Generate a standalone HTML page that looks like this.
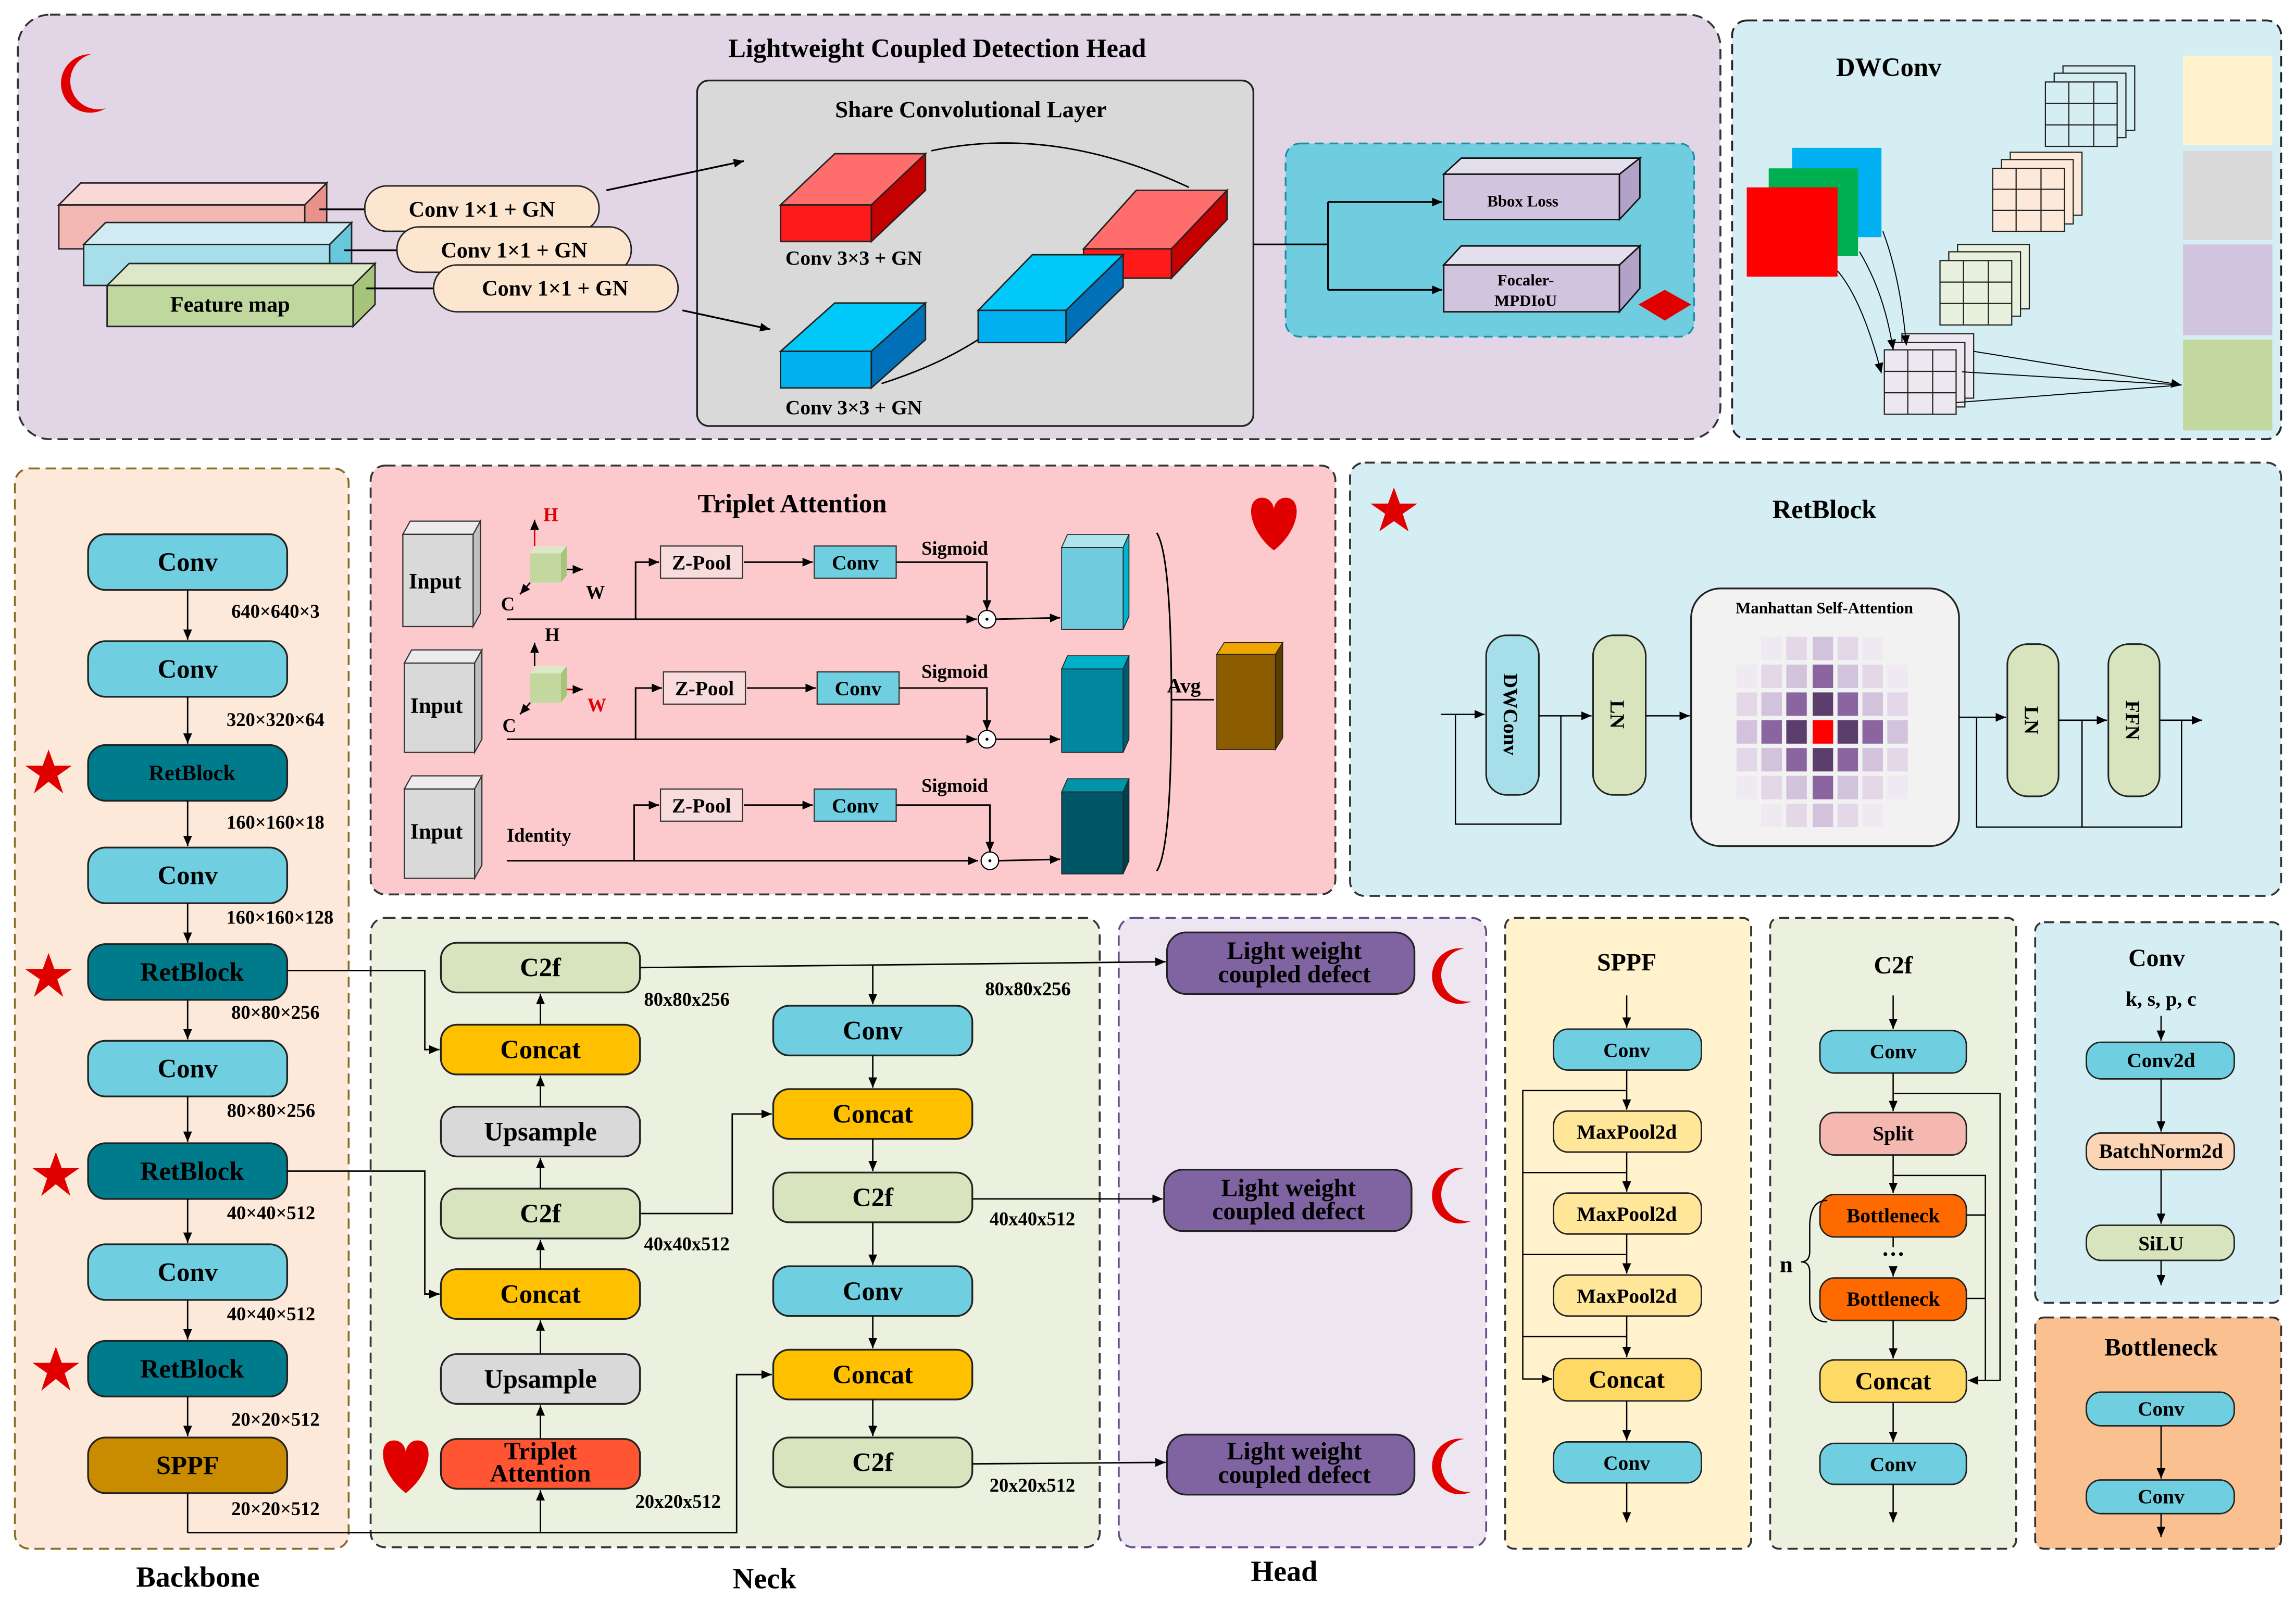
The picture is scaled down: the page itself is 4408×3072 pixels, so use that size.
<!DOCTYPE html>
<html><head><meta charset="utf-8"><style>
html,body{margin:0;padding:0;background:#fff}
svg{display:block}
text{font-family:"Liberation Serif",serif;font-weight:bold;fill:#000}
</style></head><body>
<svg width="4408" height="3072" viewBox="0 0 1568 1093" xmlns="http://www.w3.org/2000/svg">
<defs>
<marker id="a" markerWidth="8" markerHeight="8" refX="7" refY="4" orient="auto" markerUnits="userSpaceOnUse"><path d="M0,1 L7,4 L0,7 z" fill="#000"/></marker>
</defs>
<rect width="1568" height="1093" fill="#fff"/>

<!-- ============ Top-left: Lightweight Coupled Detection Head ============ -->
<rect x="12" y="10" width="1163" height="290" rx="22" fill="#e2d5e6" stroke="#333" stroke-dasharray="7,4" stroke-width="1.3"/>
<text x="640" y="39" font-size="18" text-anchor="middle">Lightweight Coupled Detection Head</text>
<path d="M62,37 A20,20 0 1,0 72,74 A17,17 0 1,1 62,37 z" fill="#e00000"/>
<g stroke="#222" stroke-width="1">
<polygon points="40,140 55,125 223,125 208,140" fill="#f8d9d8"/><polygon points="208,140 223,125 223,155 208,170" fill="#e9928c"/><rect x="40" y="140" width="168" height="30" fill="#f4b8b4"/>
<polygon points="57,167 72,152 240,152 225,167" fill="#d0ecf2"/><polygon points="225,167 240,152 240,180 225,195" fill="#66c8da"/><rect x="57" y="167" width="168" height="28" fill="#a6dfea"/>
<polygon points="73,195 88,180 256,180 241,195" fill="#dde8c9"/><polygon points="241,195 256,180 256,208 241,223" fill="#a6c57a"/><rect x="73" y="195" width="168" height="28" fill="#c0d89e"/>
</g>
<text x="157" y="213" font-size="15" text-anchor="middle">Feature map</text>
<g stroke="#000" stroke-width="1.2"><line x1="218" y1="143" x2="249" y2="143"/><line x1="235" y1="171" x2="271" y2="171"/><line x1="250" y1="197" x2="296" y2="197"/></g>
<g stroke="#222" stroke-width="1" fill="#fde6cf">
<rect x="249" y="127" width="160" height="31" rx="15"/><rect x="271" y="155" width="160" height="31" rx="15"/><rect x="296" y="181" width="167" height="32" rx="16"/>
</g>
<text x="329" y="148" font-size="15" text-anchor="middle">Conv 1×1 + GN</text>
<text x="351" y="176" font-size="15" text-anchor="middle">Conv 1×1 + GN</text>
<text x="379" y="202" font-size="15" text-anchor="middle">Conv 1×1 + GN</text>
<rect x="476" y="55" width="380" height="236" rx="8" fill="#d9d9d9" stroke="#222" stroke-width="1.2"/>
<line x1="414" y1="130" x2="508" y2="110" stroke="#000" stroke-width="1.2" marker-end="url(#a)"/>
<line x1="466" y1="212" x2="526" y2="225" stroke="#000" stroke-width="1.2" marker-end="url(#a)"/>
<text x="663" y="80" font-size="16" text-anchor="middle">Share Convolutional Layer</text>
<g stroke="#222" stroke-width="1">
<polygon points="533,140 570,105 632,105 595,140" fill="#ff6d6d"/><polygon points="595,140 632,105 632,130 595,165" fill="#c40000"/><rect x="533" y="140" width="62" height="25" fill="#ff1a1a"/>
<polygon points="740,170 776,130 838,130 800,170" fill="#ff6d6d"/><polygon points="800,170 838,130 838,150 800,190" fill="#c40000"/><rect x="740" y="170" width="60" height="20" fill="#ff1a1a"/>
<polygon points="533,240 570,207 632,207 595,240" fill="#00c8f8"/><polygon points="595,240 632,207 632,232 595,265" fill="#0070b8"/><rect x="533" y="240" width="62" height="25" fill="#00b0f0"/>
<polygon points="668,212 705,174 767,174 728,212" fill="#00c8f8"/><polygon points="728,212 767,174 767,196 728,234" fill="#0070b8"/><rect x="668" y="212" width="60" height="22" fill="#00b0f0"/>
</g>
<path d="M636,103 Q720,85 812,128" fill="none" stroke="#000" stroke-width="1"/>
<path d="M602,262 Q640,250 668,232" fill="none" stroke="#000" stroke-width="1"/>
<text x="583" y="181" font-size="14" text-anchor="middle">Conv 3×3 + GN</text>
<text x="583" y="283" font-size="14" text-anchor="middle">Conv 3×3 + GN</text>
<rect x="878" y="98" width="279" height="132" rx="10" fill="#70cddf" stroke="#1a8fa8" stroke-dasharray="6,4" stroke-width="1.2"/>
<line x1="856" y1="167" x2="907" y2="167" stroke="#000" stroke-width="1.2"/>
<polyline points="907,138 907,198" fill="none" stroke="#000" stroke-width="1.2"/>
<line x1="907" y1="138" x2="985" y2="138" stroke="#000" stroke-width="1.2" marker-end="url(#a)"/>
<line x1="907" y1="198" x2="985" y2="198" stroke="#000" stroke-width="1.2" marker-end="url(#a)"/>
<g stroke="#111" stroke-width="1">
<polygon points="986,119 998,108 1120,108 1106,119" fill="#e4dfec"/><polygon points="1106,119 1120,108 1120,135 1106,150" fill="#b3a2c7"/><rect x="986" y="119" width="120" height="31" fill="#d1c4de"/>
<polygon points="986,181 998,168 1120,168 1106,181" fill="#e4dfec"/><polygon points="1106,181 1120,168 1120,197 1106,213" fill="#b3a2c7"/><rect x="986" y="181" width="120" height="32" fill="#d1c4de"/>
</g>
<text x="1040" y="141" font-size="11" text-anchor="middle">Bbox Loss</text>
<text x="1042" y="195" font-size="11" text-anchor="middle">Focaler-</text>
<text x="1042" y="209" font-size="11" text-anchor="middle">MPDIoU</text>
<polygon points="1137,198 1155,208 1137,219 1119,208" fill="#e00000"/>

<!-- ============ DWConv ============ -->
<rect x="1183" y="14" width="375" height="286" rx="10" fill="#d5eef3" stroke="#222" stroke-dasharray="7,4" stroke-width="1.3"/>
<text x="1290" y="52" font-size="18" text-anchor="middle">DWConv</text>
<rect x="1224" y="101" width="61" height="61" fill="#00b0f0"/>
<rect x="1208" y="115" width="61" height="60" fill="#00b050"/>
<rect x="1193" y="128" width="62" height="61" fill="#ff0000"/>
<g stroke="#222" stroke-width="0.8">
<g fill="#d5eef3"><rect x="1409" y="45" width="49" height="44"/><rect x="1403" y="50" width="49" height="44"/><rect x="1397" y="56" width="49" height="44"/><path d="M1413,56V100M1430,56V100M1397,70.7H1446M1397,85.3H1446" fill="none"/></g>
<g fill="#fde9d9"><rect x="1373" y="104" width="49" height="43"/><rect x="1367" y="109" width="49" height="44"/><rect x="1361" y="115" width="49" height="43"/><path d="M1377,115V158M1394,115V158M1361,129.3H1410M1361,143.7H1410" fill="none"/></g>
<g fill="#e8f0de"><rect x="1337" y="167" width="49" height="44"/><rect x="1331" y="172" width="49" height="44"/><rect x="1325" y="178" width="49" height="44"/><path d="M1341,178V222M1358,178V222M1325,192.7H1374M1325,207.3H1374" fill="none"/></g>
<g fill="#ede8f0"><rect x="1299" y="228" width="49" height="44"/><rect x="1293" y="234" width="49" height="44"/><rect x="1287" y="239" width="49" height="44"/><path d="M1303,239V283M1320,239V283M1287,253.7H1336M1287,268.3H1336" fill="none"/></g>
</g>
<g fill="none" stroke="#000" stroke-width="0.7">
<path d="M1286,158 Q1298,190 1302,236" marker-end="url(#a)"/>
<path d="M1270,172 Q1287,200 1293,239" marker-end="url(#a)"/>
<path d="M1255,185 Q1272,205 1285,255" marker-end="url(#a)"/>
<line x1="1348" y1="240" x2="1490" y2="263" marker-end="url(#a)"/>
<line x1="1340" y1="254" x2="1490" y2="263"/>
<line x1="1336" y1="275" x2="1490" y2="263"/>
</g>
<rect x="1491" y="38" width="61" height="61" fill="#fff2cc"/>
<rect x="1491" y="103" width="61" height="61" fill="#d9d9d9"/>
<rect x="1491" y="167" width="61" height="62" fill="#d1c4de"/>
<rect x="1491" y="232" width="61" height="62" fill="#c3d89e"/>

<!-- ============ Backbone ============ -->
<rect x="10" y="320" width="228" height="738" rx="10" fill="#fde9d9" stroke="#8a6a2a" stroke-dasharray="7,4" stroke-width="1.3"/>
<!-- Neck & head panels drawn first so arrows overlay them -->
<rect x="253" y="627" width="498" height="430" rx="10" fill="#ebf1de" stroke="#333" stroke-dasharray="7,4" stroke-width="1.3"/>
<rect x="764" y="627" width="251" height="430" rx="10" fill="#ede6f1" stroke="#6a4c8a" stroke-dasharray="7,4" stroke-width="1.3"/>
<g stroke="#222" stroke-width="1.2">
<rect x="60" y="365" width="136" height="38" rx="12" fill="#6fcfe0"/>
<rect x="60" y="438" width="136" height="38" rx="12" fill="#6fcfe0"/>
<rect x="60" y="509" width="136" height="38" rx="12" fill="#007b8c"/>
<rect x="60" y="579" width="136" height="38" rx="12" fill="#6fcfe0"/>
<rect x="60" y="645" width="136" height="38" rx="12" fill="#007b8c"/>
<rect x="60" y="711" width="136" height="38" rx="12" fill="#6fcfe0"/>
<rect x="60" y="781" width="136" height="38" rx="12" fill="#007b8c"/>
<rect x="60" y="850" width="136" height="38" rx="12" fill="#6fcfe0"/>
<rect x="60" y="916" width="136" height="38" rx="12" fill="#007b8c"/>
<rect x="60" y="982" width="136" height="38" rx="12" fill="#c98b00"/>
</g>
<g font-size="18" text-anchor="middle">
<text x="128" y="390">Conv</text><text x="128" y="463">Conv</text>
<text x="131" y="533" font-size="15">RetBlock</text><text x="128" y="604">Conv</text>
<text x="131" y="670">RetBlock</text><text x="128" y="736">Conv</text>
<text x="131" y="806">RetBlock</text><text x="128" y="875">Conv</text>
<text x="131" y="941">RetBlock</text><text x="128" y="1007">SPPF</text>
</g>
<g stroke="#000" stroke-width="1">
<line x1="128" y1="403" x2="128" y2="437" marker-end="url(#a)"/>
<line x1="128" y1="476" x2="128" y2="508" marker-end="url(#a)"/>
<line x1="128" y1="547" x2="128" y2="578" marker-end="url(#a)"/>
<line x1="128" y1="617" x2="128" y2="644" marker-end="url(#a)"/>
<line x1="128" y1="683" x2="128" y2="710" marker-end="url(#a)"/>
<line x1="128" y1="749" x2="128" y2="780" marker-end="url(#a)"/>
<line x1="128" y1="819" x2="128" y2="849" marker-end="url(#a)"/>
<line x1="128" y1="888" x2="128" y2="915" marker-end="url(#a)"/>
<line x1="128" y1="954" x2="128" y2="981" marker-end="url(#a)"/>
<line x1="128" y1="1020" x2="128" y2="1047"/>
</g>
<g font-size="13" text-anchor="middle">
<text x="188" y="422">640×640×3</text><text x="188" y="496">320×320×64</text>
<text x="188" y="566">160×160×18</text><text x="191" y="631">160×160×128</text>
<text x="188" y="696">80×80×256</text><text x="185" y="763">80×80×256</text>
<text x="185" y="833">40×40×512</text><text x="185" y="902">40×40×512</text>
<text x="188" y="974">20×20×512</text><text x="188" y="1035">20×20×512</text>
</g>
<g fill="#e00000">
<polygon points="33,512 37,523 49,523 39,530 43,542 33,534 23,542 27,530 17,523 29,523"/>
<polygon points="33,651 37,662 49,662 39,669 43,681 33,673 23,681 27,669 17,662 29,662"/>
<polygon points="38,787 42,798 54,798 44,805 48,817 38,809 28,817 32,805 22,798 34,798"/>
<polygon points="38,920 42,931 54,931 44,938 48,950 38,942 28,950 32,938 22,931 34,931"/>
</g>
<text x="135" y="1084" font-size="20" text-anchor="middle">Backbone</text>

<!-- ============ Triplet Attention ============ -->
<rect x="253" y="318" width="659" height="293" rx="10" fill="#fccacd" stroke="#333" stroke-dasharray="7,4" stroke-width="1.3"/>
<text x="541" y="350" font-size="18" text-anchor="middle">Triplet Attention</text>
<path d="M870,376 C852,362 850,340 862,340 C868,340 870,346 870,348 C870,346 872,340 878,340 C890,340 888,362 870,376 z" fill="#e00000"/>
<g stroke="#333" stroke-width="0.8">
<polygon points="275,365 280,356 328,356 323,365" fill="#ececec"/><polygon points="323,365 328,356 328,419 323,428" fill="#bfbfbf"/><rect x="275" y="365" width="48" height="63" fill="#d9d9d9"/>
<polygon points="276,453 281,444 329,444 324,453" fill="#ececec"/><polygon points="324,453 329,444 329,505 324,514" fill="#bfbfbf"/><rect x="276" y="453" width="48" height="61" fill="#d9d9d9"/>
<polygon points="276,539 281,530 329,530 324,539" fill="#ececec"/><polygon points="324,539 329,530 329,591 324,600" fill="#bfbfbf"/><rect x="276" y="539" width="48" height="61" fill="#d9d9d9"/>
</g>
<g font-size="15" text-anchor="middle"><text x="297" y="402">Input</text><text x="298" y="487">Input</text><text x="298" y="573">Input</text></g>
<g stroke="none">
<polygon points="362,378 366,373 387,373 383,378" fill="#dde8c9"/><polygon points="383,378 387,373 387,393 383,398" fill="#a6c57a"/><rect x="362" y="378" width="21" height="20" fill="#c3d89e"/>
<polygon points="362,460 366,455 387,455 383,460" fill="#dde8c9"/><polygon points="383,460 387,455 387,475 383,480" fill="#a6c57a"/><rect x="362" y="460" width="21" height="20" fill="#c3d89e"/>
</g>
<g stroke-width="1">
<line x1="365" y1="373" x2="365" y2="355" stroke="#e00000" marker-end="url(#a)"/>
<line x1="387" y1="389" x2="398" y2="389" stroke="#000" marker-end="url(#a)"/>
<line x1="362" y1="398" x2="355" y2="406" stroke="#000" marker-end="url(#a)"/>
<line x1="365" y1="455" x2="365" y2="439" stroke="#000" marker-end="url(#a)"/>
<line x1="387" y1="471" x2="398" y2="471" stroke="#e00000" marker-end="url(#a)"/>
<line x1="362" y1="480" x2="355" y2="488" stroke="#000" marker-end="url(#a)"/>
</g>
<g font-size="13"><text x="371" y="356" style="fill:#e00000">H</text><text x="400" y="409">W</text><text x="342" y="417">C</text>
<text x="372" y="438">H</text><text x="401" y="486" style="fill:#e00000">W</text><text x="343" y="500">C</text>
<text x="346" y="575">Identity</text></g>
<g fill="#f8dcdc" stroke="#333" stroke-width="0.8"><rect x="451" y="373" width="56" height="22"/><rect x="453" y="459" width="56" height="22"/><rect x="451" y="539" width="56" height="22"/></g>
<g fill="#6fcfe0" stroke="#333" stroke-width="0.8"><rect x="556" y="373" width="56" height="22"/><rect x="558" y="459" width="56" height="22"/><rect x="556" y="539" width="56" height="22"/></g>
<g font-size="14" text-anchor="middle"><text x="479" y="389">Z-Pool</text><text x="481" y="475">Z-Pool</text><text x="479" y="555">Z-Pool</text>
<text x="584" y="389">Conv</text><text x="586" y="475">Conv</text><text x="584" y="555">Conv</text></g>
<g font-size="13" text-anchor="middle"><text x="652" y="379">Sigmoid</text><text x="652" y="463">Sigmoid</text><text x="652" y="541">Sigmoid</text></g>
<g fill="none" stroke="#000" stroke-width="1.1">
<line x1="346" y1="423" x2="667" y2="423" marker-end="url(#a)"/>
<polyline points="434,423 434,384 450,384" marker-end="url(#a)"/>
<line x1="508" y1="384" x2="555" y2="384" marker-end="url(#a)"/>
<polyline points="612,384 674,384 674,417" marker-end="url(#a)"/>
<line x1="680" y1="423" x2="724" y2="422" marker-end="url(#a)"/>
<line x1="346" y1="505" x2="667" y2="505" marker-end="url(#a)"/>
<polyline points="434,505 434,470 452,470" marker-end="url(#a)"/>
<line x1="510" y1="470" x2="557" y2="470" marker-end="url(#a)"/>
<polyline points="614,470 674,470 674,499" marker-end="url(#a)"/>
<line x1="680" y1="505" x2="724" y2="505" marker-end="url(#a)"/>
<line x1="346" y1="588" x2="668" y2="588" marker-end="url(#a)"/>
<polyline points="433,588 433,550 450,550" marker-end="url(#a)"/>
<line x1="508" y1="550" x2="555" y2="550" marker-end="url(#a)"/>
<polyline points="612,550 676,550 676,582" marker-end="url(#a)"/>
<line x1="681" y1="588" x2="724" y2="587" marker-end="url(#a)"/>
<path d="M790,364 Q800,380 800,480 Q800,580 790,595"/>
<line x1="800" y1="478" x2="829" y2="478"/>
</g>
<g fill="#fff" stroke="#000" stroke-width="0.8"><ellipse cx="674" cy="423" rx="6" ry="6"/><ellipse cx="674" cy="505" rx="6" ry="6"/><ellipse cx="676" cy="588" rx="6" ry="6"/></g>
<g fill="#000"><circle cx="674" cy="423" r="1"/><circle cx="674" cy="505" r="1"/><circle cx="676" cy="588" r="1"/></g>
<g stroke="#222" stroke-width="0.6">
<polygon points="725,374 729,365 771,365 767,374" fill="#b0e4ec"/><polygon points="767,374 771,365 771,421 767,430" fill="#00b4cc"/><rect x="725" y="374" width="42" height="56" fill="#6fcbdd"/>
<polygon points="725,457 729,448 771,448 767,457" fill="#00b0c8"/><polygon points="767,457 771,448 771,505 767,514" fill="#005c70"/><rect x="725" y="457" width="42" height="57" fill="#00869e"/>
<polygon points="725,541 729,532 771,532 767,541" fill="#0094aa"/><polygon points="767,541 771,532 771,588 767,597" fill="#003f4c"/><rect x="725" y="541" width="42" height="56" fill="#005566"/>
<polygon points="831,447 836,439 876,439 871,447" fill="#f0a600"/><polygon points="871,447 876,439 876,504 871,512" fill="#5a3c00"/><rect x="831" y="447" width="40" height="65" fill="#8b5d00"/>
</g>
<text x="797" y="473" font-size="14">Avg</text>

<!-- ============ RetBlock ============ -->
<rect x="922" y="316" width="636" height="296" rx="10" fill="#d5eef3" stroke="#333" stroke-dasharray="7,4" stroke-width="1.3"/>
<text x="1246" y="354" font-size="18" text-anchor="middle">RetBlock</text>
<polygon points="952,333 956,344 968,344 958,351 962,363 952,356 942,363 946,351 936,344 948,344" fill="#e00000"/>
<rect x="1015" y="434" width="36" height="109" rx="14" fill="#a6dfea" stroke="#222" stroke-width="1.1"/>
<rect x="1088" y="434" width="36" height="109" rx="14" fill="#d7e4bd" stroke="#222" stroke-width="1.1"/>
<rect x="1155" y="402" width="183" height="176" rx="20" fill="#f2f2f2" stroke="#222" stroke-width="1.2"/>
<rect x="1371" y="440" width="35" height="104" rx="14" fill="#d7e4bd" stroke="#222" stroke-width="1.1"/>
<rect x="1440" y="440" width="35" height="104" rx="14" fill="#d7e4bd" stroke="#222" stroke-width="1.1"/>
<text transform="translate(1027,488) rotate(90)" font-size="14" text-anchor="middle">DWConv</text>
<text transform="translate(1100,488) rotate(90)" font-size="14" text-anchor="middle">LN</text>
<text transform="translate(1383,492) rotate(90)" font-size="14" text-anchor="middle">LN</text>
<text transform="translate(1452,492) rotate(90)" font-size="14" text-anchor="middle">FFN</text>
<text x="1246" y="419" font-size="11" text-anchor="middle">Manhattan Self-Attention</text>
<g>
<rect x="1203" y="435" width="14" height="16" fill="#efe9f1"/><rect x="1220" y="435" width="14" height="16" fill="#e3d7e8"/><rect x="1238" y="435" width="14" height="16" fill="#d3c2dc"/><rect x="1255" y="435" width="14" height="16" fill="#e3d7e8"/><rect x="1272" y="435" width="14" height="16" fill="#efe9f1"/>
<rect x="1186" y="454" width="14" height="16" fill="#efe9f1"/><rect x="1203" y="454" width="14" height="16" fill="#e3d7e8"/><rect x="1220" y="454" width="14" height="16" fill="#d3c2dc"/><rect x="1238" y="454" width="14" height="16" fill="#8b65a0"/><rect x="1255" y="454" width="14" height="16" fill="#d3c2dc"/><rect x="1272" y="454" width="14" height="16" fill="#e3d7e8"/><rect x="1289" y="454" width="14" height="16" fill="#efe9f1"/>
<rect x="1186" y="473" width="14" height="16" fill="#e3d7e8"/><rect x="1203" y="473" width="14" height="16" fill="#d3c2dc"/><rect x="1220" y="473" width="14" height="16" fill="#8b65a0"/><rect x="1238" y="473" width="14" height="16" fill="#5b3e6b"/><rect x="1255" y="473" width="14" height="16" fill="#8b65a0"/><rect x="1272" y="473" width="14" height="16" fill="#d3c2dc"/><rect x="1289" y="473" width="14" height="16" fill="#e3d7e8"/>
<rect x="1186" y="492" width="14" height="16" fill="#d3c2dc"/><rect x="1203" y="492" width="14" height="16" fill="#8b65a0"/><rect x="1220" y="492" width="14" height="16" fill="#5b3e6b"/><rect x="1238" y="492" width="14" height="16" fill="#ff0000"/><rect x="1255" y="492" width="14" height="16" fill="#5b3e6b"/><rect x="1272" y="492" width="14" height="16" fill="#8b65a0"/><rect x="1289" y="492" width="14" height="16" fill="#d3c2dc"/>
<rect x="1186" y="511" width="14" height="16" fill="#e3d7e8"/><rect x="1203" y="511" width="14" height="16" fill="#d3c2dc"/><rect x="1220" y="511" width="14" height="16" fill="#8b65a0"/><rect x="1238" y="511" width="14" height="16" fill="#5b3e6b"/><rect x="1255" y="511" width="14" height="16" fill="#8b65a0"/><rect x="1272" y="511" width="14" height="16" fill="#d3c2dc"/><rect x="1289" y="511" width="14" height="16" fill="#e3d7e8"/>
<rect x="1186" y="530" width="14" height="16" fill="#efe9f1"/><rect x="1203" y="530" width="14" height="16" fill="#e3d7e8"/><rect x="1220" y="530" width="14" height="16" fill="#d3c2dc"/><rect x="1238" y="530" width="14" height="16" fill="#8b65a0"/><rect x="1255" y="530" width="14" height="16" fill="#d3c2dc"/><rect x="1272" y="530" width="14" height="16" fill="#e3d7e8"/><rect x="1289" y="530" width="14" height="16" fill="#efe9f1"/>
<rect x="1203" y="549" width="14" height="16" fill="#efe9f1"/><rect x="1220" y="549" width="14" height="16" fill="#e3d7e8"/><rect x="1238" y="549" width="14" height="16" fill="#d3c2dc"/><rect x="1255" y="549" width="14" height="16" fill="#e3d7e8"/><rect x="1272" y="549" width="14" height="16" fill="#efe9f1"/>
</g>
<g fill="none" stroke="#000" stroke-width="0.9">
<line x1="984" y1="488" x2="1014" y2="488" marker-end="url(#a)"/>
<polyline points="994,488 994,563 1066,563 1066,489"/>
<line x1="1051" y1="489" x2="1087" y2="489" marker-end="url(#a)"/>
<line x1="1124" y1="489" x2="1154" y2="489" marker-end="url(#a)"/>
<line x1="1338" y1="490" x2="1370" y2="490" marker-end="url(#a)"/>
<polyline points="1350,490 1350,565 1422,565 1422,492"/>
<line x1="1406" y1="492" x2="1439" y2="492" marker-end="url(#a)"/>
<line x1="1475" y1="492" x2="1504" y2="492" marker-end="url(#a)"/>
<polyline points="1490,492 1490,565 1422,565"/>
</g>

<!-- ============ Neck ============ -->
<g stroke="#222" stroke-width="1.2">
<rect x="301" y="644" width="136" height="34" rx="11" fill="#d7e4bd"/>
<rect x="301" y="700" width="136" height="34" rx="11" fill="#ffc000"/>
<rect x="301" y="756" width="136" height="34" rx="11" fill="#d9d9d9"/>
<rect x="301" y="812" width="136" height="34" rx="11" fill="#d7e4bd"/>
<rect x="301" y="867" width="136" height="34" rx="11" fill="#ffc000"/>
<rect x="301" y="925" width="136" height="34" rx="11" fill="#d9d9d9"/>
<rect x="301" y="983" width="136" height="34" rx="11" fill="#ff5533"/>
<rect x="528" y="687" width="136" height="34" rx="11" fill="#6fcfe0"/>
<rect x="528" y="744" width="136" height="34" rx="11" fill="#ffc000"/>
<rect x="528" y="801" width="136" height="34" rx="11" fill="#d7e4bd"/>
<rect x="528" y="865" width="136" height="34" rx="11" fill="#6fcfe0"/>
<rect x="528" y="922" width="136" height="34" rx="11" fill="#ffc000"/>
<rect x="528" y="982" width="136" height="34" rx="11" fill="#d7e4bd"/>
</g>
<g font-size="18" text-anchor="middle">
<text x="369" y="667">C2f</text><text x="369" y="723">Concat</text><text x="369" y="779">Upsample</text>
<text x="369" y="835">C2f</text><text x="369" y="890">Concat</text><text x="369" y="948">Upsample</text>
<text x="369" y="997" font-size="17">Triplet</text><text x="369" y="1012" font-size="17">Attention</text>
<text x="596" y="710">Conv</text><text x="596" y="767">Concat</text><text x="596" y="824">C2f</text>
<text x="596" y="888">Conv</text><text x="596" y="945">Concat</text><text x="596" y="1005">C2f</text>
</g>
<g fill="none" stroke="#000" stroke-width="1">
<line x1="369" y1="700" x2="369" y2="679" marker-end="url(#a)"/>
<line x1="369" y1="756" x2="369" y2="735" marker-end="url(#a)"/>
<line x1="369" y1="812" x2="369" y2="791" marker-end="url(#a)"/>
<line x1="369" y1="867" x2="369" y2="847" marker-end="url(#a)"/>
<line x1="369" y1="925" x2="369" y2="902" marker-end="url(#a)"/>
<line x1="369" y1="983" x2="369" y2="960" marker-end="url(#a)"/>
<polyline points="128,1047 369,1047 369,1018" marker-end="url(#a)"/>
<polyline points="196,663 290,663 290,717 300,717" marker-end="url(#a)"/>
<polyline points="196,800 290,800 290,884 300,884" marker-end="url(#a)"/>
<polyline points="437,661 796,657" marker-end="url(#a)"/>
<line x1="596" y1="659" x2="596" y2="686" marker-end="url(#a)"/>
<line x1="596" y1="721" x2="596" y2="743" marker-end="url(#a)"/>
<line x1="596" y1="778" x2="596" y2="800" marker-end="url(#a)"/>
<line x1="596" y1="835" x2="596" y2="864" marker-end="url(#a)"/>
<line x1="596" y1="899" x2="596" y2="921" marker-end="url(#a)"/>
<line x1="596" y1="956" x2="596" y2="981" marker-end="url(#a)"/>
<polyline points="437,829 500,829 500,761 527,761" marker-end="url(#a)"/>
<polyline points="369,1047 503,1047 503,939 527,939" marker-end="url(#a)"/>
<line x1="664" y1="819" x2="794" y2="819" marker-end="url(#a)"/>
<line x1="664" y1="1000" x2="796" y2="999" marker-end="url(#a)"/>
</g>
<g font-size="13" text-anchor="middle">
<text x="469" y="687">80x80x256</text><text x="702" y="680">80x80x256</text>
<text x="469" y="854">40x40x512</text><text x="705" y="837">40x40x512</text>
<text x="463" y="1030">20x20x512</text><text x="705" y="1019">20x20x512</text>
</g>
<path d="M277,1020 C259,1006 257,984 269,984 C275,984 277,990 277,992 C277,990 279,984 285,984 C297,984 295,1006 277,1020 z" fill="#e00000"/>
<text x="522" y="1085" font-size="20" text-anchor="middle">Neck</text>

<!-- ============ Head ============ -->
<g fill="#8064a2" stroke="#222" stroke-width="1.2">
<rect x="797" y="637" width="169" height="42" rx="13"/><rect x="795" y="799" width="169" height="42" rx="13"/><rect x="797" y="980" width="169" height="41" rx="13"/>
</g>
<g font-size="17" text-anchor="middle">
<text x="884" y="655">Light weight</text><text x="884" y="671">coupled defect</text>
<text x="880" y="817">Light weight</text><text x="880" y="833">coupled defect</text>
<text x="884" y="997">Light weight</text><text x="884" y="1013">coupled defect</text>
</g>
<g fill="#e00000">
<path d="M1000,648 A19,19 0 1,0 1005,684 A16,16 0 1,1 1000,648 z"/>
<path d="M1000,798 A19,19 0 1,0 1005,834 A16,16 0 1,1 1000,798 z"/>
<path d="M1000,983 A19,19 0 1,0 1005,1019 A16,16 0 1,1 1000,983 z"/>
</g>
<text x="877" y="1080" font-size="20" text-anchor="middle">Head</text>

<!-- ============ SPPF ============ -->
<rect x="1028" y="627" width="168" height="431" rx="6" fill="#fff2cc" stroke="#333" stroke-dasharray="7,4" stroke-width="1.3"/>
<text x="1111" y="663" font-size="17" text-anchor="middle">SPPF</text>
<g stroke="#222" stroke-width="1">
<rect x="1061" y="703" width="101" height="28" rx="10" fill="#6fcfe0"/>
<rect x="1061" y="759" width="101" height="28" rx="10" fill="#ffe699"/>
<rect x="1061" y="815" width="101" height="28" rx="10" fill="#ffe699"/>
<rect x="1061" y="871" width="101" height="28" rx="10" fill="#ffe699"/>
<rect x="1061" y="928" width="101" height="29" rx="10" fill="#ffd966"/>
<rect x="1061" y="985" width="101" height="28" rx="10" fill="#6fcfe0"/>
</g>
<g font-size="14" text-anchor="middle"><text x="1111" y="722">Conv</text><text x="1111" y="778">MaxPool2d</text><text x="1111" y="834">MaxPool2d</text><text x="1111" y="890">MaxPool2d</text><text x="1111" y="948" font-size="17">Concat</text><text x="1111" y="1004">Conv</text></g>
<g fill="none" stroke="#000" stroke-width="0.9">
<line x1="1111" y1="680" x2="1111" y2="702" marker-end="url(#a)"/>
<line x1="1111" y1="731" x2="1111" y2="758" marker-end="url(#a)"/>
<line x1="1111" y1="787" x2="1111" y2="814" marker-end="url(#a)"/>
<line x1="1111" y1="843" x2="1111" y2="870" marker-end="url(#a)"/>
<line x1="1111" y1="899" x2="1111" y2="927" marker-end="url(#a)"/>
<line x1="1111" y1="957" x2="1111" y2="984" marker-end="url(#a)"/>
<line x1="1111" y1="1013" x2="1111" y2="1040" marker-end="url(#a)"/>
<polyline points="1111,745 1040,745 1040,942 1060,942" marker-end="url(#a)"/>
<polyline points="1111,801 1040,801"/><polyline points="1111,857 1040,857"/><polyline points="1111,913 1040,913"/>
</g>

<!-- ============ C2f ============ -->
<rect x="1209" y="627" width="168" height="431" rx="6" fill="#ebf1de" stroke="#333" stroke-dasharray="7,4" stroke-width="1.3"/>
<text x="1293" y="665" font-size="17" text-anchor="middle">C2f</text>
<g stroke="#222" stroke-width="1">
<rect x="1243" y="704" width="100" height="29" rx="10" fill="#6fcfe0"/>
<rect x="1243" y="760" width="100" height="29" rx="10" fill="#f4b8b0"/>
<rect x="1243" y="816" width="100" height="29" rx="10" fill="#ff6a00"/>
<rect x="1243" y="873" width="100" height="29" rx="10" fill="#ff6a00"/>
<rect x="1243" y="929" width="100" height="29" rx="10" fill="#ffd966"/>
<rect x="1243" y="986" width="100" height="28" rx="10" fill="#6fcfe0"/>
</g>
<g font-size="14" text-anchor="middle"><text x="1293" y="723">Conv</text><text x="1293" y="779">Split</text><text x="1293" y="835">Bottleneck</text><text x="1293" y="892">Bottleneck</text><text x="1293" y="949" font-size="17">Concat</text><text x="1293" y="1005">Conv</text></g>
<text x="1293" y="862" font-size="16" text-anchor="middle">···</text>
<g fill="none" stroke="#000" stroke-width="0.9">
<line x1="1293" y1="680" x2="1293" y2="703" marker-end="url(#a)"/>
<line x1="1293" y1="733" x2="1293" y2="759" marker-end="url(#a)"/>
<line x1="1293" y1="789" x2="1293" y2="815" marker-end="url(#a)"/>
<line x1="1293" y1="845" x2="1293" y2="852"/>
<line x1="1293" y1="866" x2="1293" y2="872" marker-end="url(#a)"/>
<line x1="1293" y1="902" x2="1293" y2="928" marker-end="url(#a)"/>
<line x1="1293" y1="958" x2="1293" y2="985" marker-end="url(#a)"/>
<line x1="1293" y1="1014" x2="1293" y2="1040" marker-end="url(#a)"/>
<polyline points="1293,747 1366,747 1366,943 1344,943" marker-end="url(#a)"/>
<polyline points="1293,803 1356,803 1356,943"/>
<polyline points="1343,830 1356,830"/><polyline points="1343,887 1356,887"/>
<path d="M1248,820 Q1236,820 1236,838 L1236,855 Q1236,862 1230,862 Q1236,862 1236,869 L1236,888 Q1236,903 1248,903"/>
</g>
<text x="1220" y="869" font-size="16" text-anchor="middle">n</text>

<!-- ============ Conv ============ -->
<rect x="1390" y="630" width="168" height="260" rx="6" fill="#d5eef3" stroke="#333" stroke-dasharray="7,4" stroke-width="1.3"/>
<text x="1473" y="660" font-size="17" text-anchor="middle">Conv</text>
<text x="1476" y="687" font-size="14" text-anchor="middle">k, s, p, c</text>
<g stroke="#222" stroke-width="1">
<rect x="1425" y="712" width="101" height="25" rx="10" fill="#6fcfe0"/>
<rect x="1425" y="774" width="101" height="25" rx="10" fill="#fbd5b5"/>
<rect x="1425" y="837" width="101" height="24" rx="10" fill="#d7e4bd"/>
</g>
<g font-size="14" text-anchor="middle"><text x="1476" y="729">Conv2d</text><text x="1476" y="791">BatchNorm2d</text><text x="1476" y="854">SiLU</text></g>
<g stroke="#000" stroke-width="0.9">
<line x1="1476" y1="694" x2="1476" y2="711" marker-end="url(#a)"/>
<line x1="1476" y1="737" x2="1476" y2="773" marker-end="url(#a)"/>
<line x1="1476" y1="799" x2="1476" y2="836" marker-end="url(#a)"/>
<line x1="1476" y1="861" x2="1476" y2="878" marker-end="url(#a)"/>
</g>

<!-- ============ Bottleneck ============ -->
<rect x="1390" y="900" width="168" height="158" rx="6" fill="#fac090" stroke="#333" stroke-dasharray="7,4" stroke-width="1.3"/>
<text x="1476" y="926" font-size="17" text-anchor="middle">Bottleneck</text>
<g stroke="#222" stroke-width="1" fill="#6fcfe0">
<rect x="1425" y="951" width="101" height="23" rx="10"/><rect x="1425" y="1011" width="101" height="23" rx="10"/>
</g>
<g font-size="14" text-anchor="middle"><text x="1476" y="967">Conv</text><text x="1476" y="1027">Conv</text></g>
<g stroke="#000" stroke-width="0.9">
<line x1="1476" y1="974" x2="1476" y2="1010" marker-end="url(#a)"/>
<line x1="1476" y1="1034" x2="1476" y2="1050" marker-end="url(#a)"/>
</g>
</svg>
</body></html>
